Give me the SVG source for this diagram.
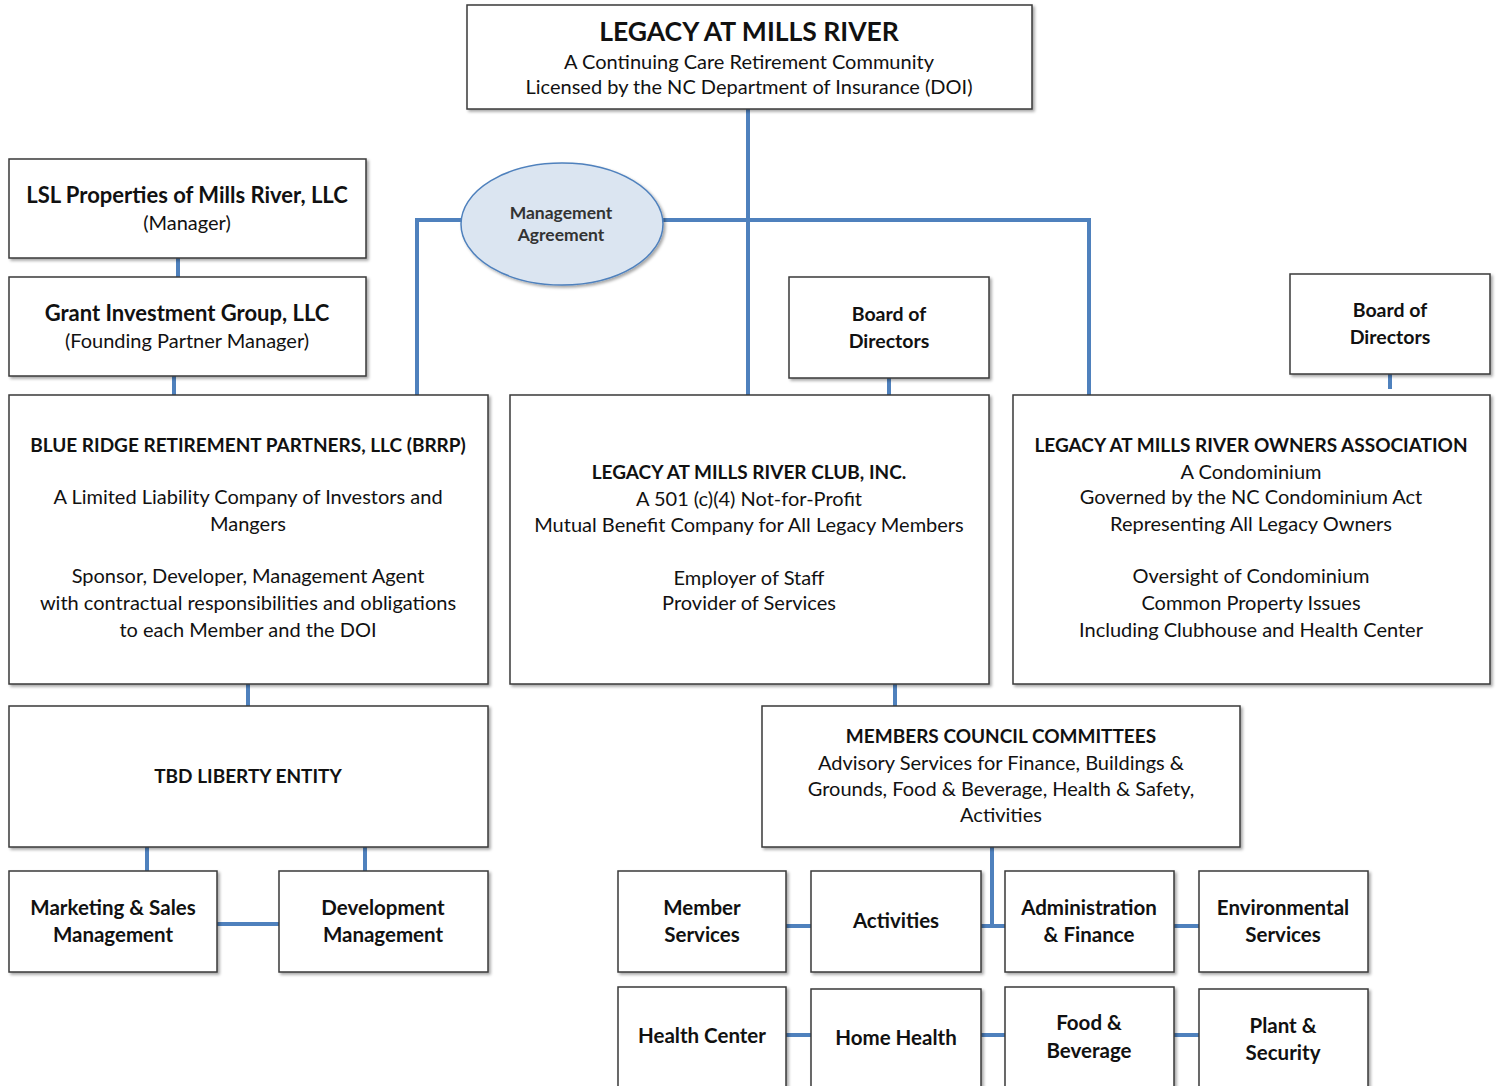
<svg xmlns="http://www.w3.org/2000/svg" width="1499" height="1086" viewBox="0 0 1499 1086">
<defs>
<filter id="sh" x="-5%" y="-5%" width="115%" height="115%">
<feDropShadow dx="2" dy="2" stdDeviation="1.5" flood-color="#000" flood-opacity="0.35"/>
</filter>
<style>
.box{fill:#fff;stroke:#3a3a3a;stroke-width:1.5;filter:url(#sh)}
.ell{fill:#dbe5f1;stroke:#4f81bd;stroke-width:1.5;filter:url(#sh)}
.c{stroke:#4f81bd;stroke-width:4;fill:none}
text{font-family:Lato,"Open Sans","Liberation Sans",sans-serif;fill:#111;text-anchor:middle}
.t{font-size:20px}
.b{font-size:19px;font-weight:bold}
.h{font-size:26.5px;font-weight:bold}
.s{font-size:17.5px;font-weight:bold;fill:#333}
.u{font-size:22px;font-weight:bold}
.g{font-size:20px}
.d{font-size:19.5px;font-weight:bold}
.m{font-size:20.5px;font-weight:bold}
</style>
</defs>
<rect width="1499" height="1086" fill="#fff"/>
<g id="connectors">
<path class="c" d="M748 109V395"/>
<path class="c" d="M417 395V220H1089V395"/>
<path class="c" d="M178 258V277"/>
<path class="c" d="M174 376V395"/>
<path class="c" d="M889 378V395"/>
<path class="c" d="M1390 374V389"/>
<path class="c" d="M248 684V706"/>
<path class="c" d="M147 847V871"/>
<path class="c" d="M365 847V871"/>
<path class="c" d="M217 924H279"/>
<path class="c" d="M895 684V706"/>
<path class="c" d="M992 847V926"/>
<path class="c" d="M786 926H1199"/>
<path class="c" d="M786 1035H1199"/>
</g>
<g id="legacy"><rect class="box" x="467" y="5" width="565" height="104"/>
<text class="h" x="749" y="41">LEGACY AT MILLS RIVER</text>
<text class="t" x="749" y="69">A Continuing Care Retirement Community</text>
<text class="t" x="749" y="94">Licensed by the NC Department of Insurance (DOI)</text></g>
<g id="mgmt"><ellipse class="ell" cx="562" cy="224" rx="101" ry="61"/>
<text class="s" x="561" y="219">Management</text>
<text class="s" x="561" y="241">Agreement</text></g>
<g id="lsl"><rect class="box" x="9" y="159" width="357" height="99"/>
<text class="u" x="187" y="203">LSL Properties of Mills River, LLC</text>
<text class="g" x="187" y="230">(Manager)</text></g>
<g id="grant"><rect class="box" x="9" y="277" width="357" height="99"/>
<text class="u" x="187" y="321">Grant Investment Group, LLC</text>
<text class="g" x="187" y="348">(Founding Partner Manager)</text></g>
<g id="board1"><rect class="box" x="789" y="277" width="200" height="101"/>
<text class="d" x="889" y="321">Board of</text>
<text class="d" x="889" y="348">Directors</text></g>
<g id="board2"><rect class="box" x="1290" y="274" width="200" height="100"/>
<text class="d" x="1390" y="317">Board of</text>
<text class="d" x="1390" y="344">Directors</text></g>
<g id="brrp"><rect class="box" x="9" y="395" width="479" height="289"/>
<text class="b" x="248" y="452">BLUE RIDGE RETIREMENT PARTNERS, LLC (BRRP)</text>
<text class="t" x="248" y="504">A Limited Liability Company of Investors and</text>
<text class="t" x="248" y="531">Mangers</text>
<text class="t" x="248" y="583">Sponsor, Developer, Management Agent</text>
<text class="t" x="248" y="610">with contractual responsibilities and obligations</text>
<text class="t" x="248" y="637">to each Member and the DOI</text></g>
<g id="club"><rect class="box" x="510" y="395" width="479" height="289"/>
<text class="b" x="749" y="479">LEGACY AT MILLS RIVER CLUB, INC.</text>
<text class="t" x="749" y="506">A 501 (c)(4) Not-for-Profit</text>
<text class="t" x="749" y="532">Mutual Benefit Company for All Legacy Members</text>
<text class="t" x="749" y="585">Employer of Staff</text>
<text class="t" x="749" y="610">Provider of Services</text></g>
<g id="owners"><rect class="box" x="1013" y="395" width="477" height="289"/>
<text class="b" x="1251" y="452">LEGACY AT MILLS RIVER OWNERS ASSOCIATION</text>
<text class="t" x="1251" y="479">A Condominium</text>
<text class="t" x="1251" y="504">Governed by the NC Condominium Act</text>
<text class="t" x="1251" y="531">Representing All Legacy Owners</text>
<text class="t" x="1251" y="583">Oversight of Condominium</text>
<text class="t" x="1251" y="610">Common Property Issues</text>
<text class="t" x="1251" y="637">Including Clubhouse and Health Center</text></g>
<g id="tbd"><rect class="box" x="9" y="706" width="479" height="141"/>
<text class="b" x="248" y="783">TBD LIBERTY ENTITY</text></g>
<g id="council"><rect class="box" x="762" y="706" width="478" height="141"/>
<text class="b" x="1001" y="743">MEMBERS COUNCIL COMMITTEES</text>
<text class="t" x="1001" y="770">Advisory Services for Finance, Buildings &amp;</text>
<text class="t" x="1001" y="796">Grounds, Food &amp; Beverage, Health &amp; Safety,</text>
<text class="t" x="1001" y="822">Activities</text></g>
<g id="marketing"><rect class="box" x="9" y="871" width="208" height="101"/>
<text class="m" x="113" y="915">Marketing &amp; Sales</text>
<text class="m" x="113" y="942">Management</text></g>
<g id="development"><rect class="box" x="279" y="871" width="209" height="101"/>
<text class="m" x="383" y="915">Development</text>
<text class="m" x="383" y="942">Management</text></g>
<g id="member"><rect class="box" x="618" y="871" width="168" height="101"/>
<text class="m" x="702" y="915">Member</text>
<text class="m" x="702" y="942">Services</text></g>
<g id="activities"><rect class="box" x="811" y="871" width="170" height="101"/>
<text class="m" x="896" y="928">Activities</text></g>
<g id="admin"><rect class="box" x="1005" y="871" width="169" height="101"/>
<text class="m" x="1089" y="915">Administration</text>
<text class="m" x="1089" y="942">&amp; Finance</text></g>
<g id="env"><rect class="box" x="1199" y="871" width="169" height="101"/>
<text class="m" x="1283" y="915">Environmental</text>
<text class="m" x="1283" y="942">Services</text></g>
<g id="health"><rect class="box" x="618" y="987" width="168" height="110"/>
<text class="m" x="702" y="1043">Health Center</text></g>
<g id="home"><rect class="box" x="811" y="989" width="170" height="110"/>
<text class="m" x="896" y="1045">Home Health</text></g>
<g id="food"><rect class="box" x="1005" y="987" width="169" height="110"/>
<text class="m" x="1089" y="1030">Food &amp;</text>
<text class="m" x="1089" y="1058">Beverage</text></g>
<g id="plant"><rect class="box" x="1199" y="989" width="169" height="110"/>
<text class="m" x="1283" y="1033">Plant &amp;</text>
<text class="m" x="1283" y="1060">Security</text></g>
</svg>
